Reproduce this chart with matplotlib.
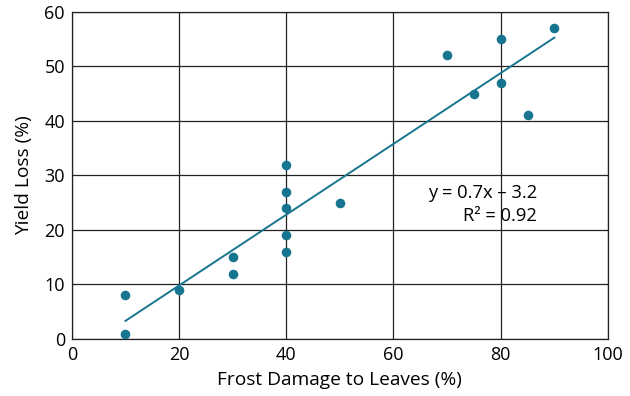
import numpy as np
import matplotlib
matplotlib.use("Agg")
from matplotlib import pyplot as plt

plt.rcParams['font.family'] = ['Open Sans', 'DejaVu Sans']

frost = [10, 10, 20, 30, 30, 40, 40, 40, 40, 40, 50, 70, 75, 80, 80, 85, 90]
loss = [8, 1, 9, 15, 12, 32, 27, 24, 19, 16, 25, 52, 45, 55, 47, 41, 57]
equation = "y = 0.7x \u2013 3.2"
r2_label = "R\u00b2 = 0.92"

teal = '#17758f'

fig = plt.figure(figsize=(6.3, 3.96), dpi=100)
ax = fig.add_axes([0.114, 0.144, 0.851, 0.826])

ax.scatter(frost, loss, s=48, color=teal, zorder=3, linewidths=0)

slope, intercept = np.polyfit(frost, loss, 1)
xs = np.array([min(frost), max(frost)])
ax.plot(xs, slope * xs + intercept, color=teal, lw=1.4, zorder=3)

ax.text(86.8, 26.7, equation, ha='right', va='center', fontsize=13.2)
ax.text(86.8, 22.6, r2_label, ha='right', va='center', fontsize=13.2)

ax.set_xlim(0, 100)
ax.set_ylim(0, 60)
ax.set_xticks(range(0, 101, 20))
ax.set_yticks(range(0, 61, 10))
ax.grid(True, color='#222222', lw=0.9)
ax.set_axisbelow(True)
for s in ax.spines.values():
    s.set_color('#222222')
    s.set_linewidth(0.9)
ax.tick_params(length=0, labelsize=13, pad=5)
ax.set_xlabel('Frost Damage to Leaves (%)', fontsize=13.8, labelpad=5)
ax.set_ylabel('Yield Loss (%)', fontsize=13.8, labelpad=8)

fig.savefig('out.png', dpi=100)
